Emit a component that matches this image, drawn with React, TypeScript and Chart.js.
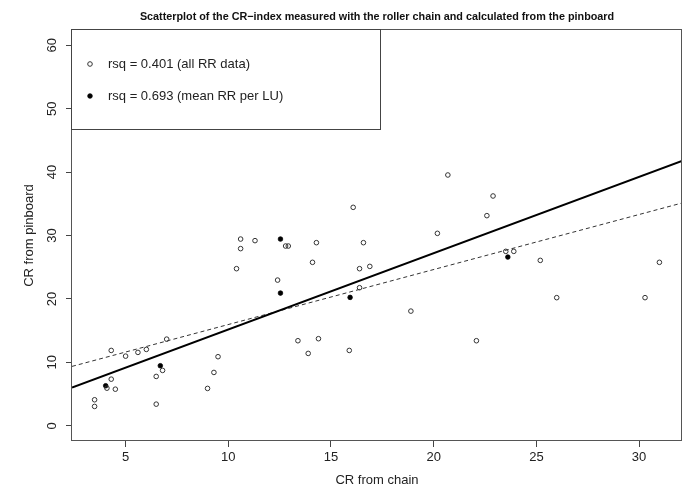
import React, { useEffect, useRef } from "react";
import { Chart, registerables } from "chart.js";

Chart.register(...registerables);

const FONT = "'Liberation Sans', Arial, Helvetica, sans-serif";

const titleText =
  "Scatterplot of the CR\u2212index measured with the roller chain and calculated from the pinboard";
const xLabel = "CR from chain";
const yLabel = "CR from pinboard";
const legendLabels = ["rsq = 0.401 (all RR data)", "rsq = 0.693 (mean RR per LU)"];

const xTicks = [5, 10, 15, 20, 25, 30];
const yTicks = [0, 10, 20, 30, 40, 50, 60];
const xLimits = [2.39, 32.09];
const yLimits = [-2.4, 62.4];

// all RR data (open circles)
const allChain = [
  3.49, 3.49, 4.3, 4.3, 4.09, 4.5, 5.0, 5.6, 6.01, 7.0, 6.49, 6.8, 6.49, 8.99, 9.3, 9.5,
  16.08, 10.6, 11.3, 12.79, 12.92, 14.29, 16.58, 10.6, 10.4, 14.1, 16.39, 16.89, 12.4, 16.39,
  13.39, 14.39, 13.89, 15.89, 20.69, 22.89, 22.59, 20.18, 23.51, 23.9, 25.19, 30.99, 25.99,
  30.29, 18.89, 22.08,
];
const allPinboard = [
  4.1, 3.05, 11.88, 7.35, 5.93, 5.77, 10.98, 11.57, 12.04, 13.66, 7.78, 8.73, 3.41, 5.89, 8.41,
  10.89, 34.44, 29.44, 29.19, 28.34, 28.34, 28.87, 28.87, 27.93, 24.77, 25.77, 24.77, 25.13,
  22.97, 21.77, 13.41, 13.73, 11.41, 11.88, 39.54, 36.23, 33.13, 30.34, 27.5, 27.5, 26.08, 25.77,
  20.2, 20.2, 18.08, 13.41,
];

// mean RR per LU (filled dots)
const meanChain = [4.03, 6.69, 12.54, 12.54, 15.93, 23.61];
const meanPinboard = [6.31, 9.47, 29.44, 20.92, 20.24, 26.6];

// regression lines
const fitAll = { intercept: 7.29, slope: 0.8673 };
const fitMean = { intercept: 3.17, slope: 1.2024 };

const openStyle = { radius: 2.3, border: "#333", fill: "rgba(255,255,255,0)", width: 1 };
const filledStyle = { radius: 2.3, border: "#000", fill: "#000", width: 0.8 };

function linePoints(fit: { intercept: number; slope: number }) {
  return xLimits.map((x) => ({ x, y: fit.intercept + fit.slope * x }));
}

const decorPlugin = {
  id: "decor",
  afterDraw(chart: any) {
    const { ctx, chartArea: a } = chart;
    ctx.save();
    // plot box
    ctx.strokeStyle = "#555";
    ctx.lineWidth = 1;
    ctx.strokeRect(a.left - 0.5, a.top - 0.5, a.right - a.left, a.bottom - a.top);

    // title
    ctx.fillStyle = "#111";
    ctx.font = `bold 10.8px ${FONT}`;
    ctx.textAlign = "center";
    ctx.textBaseline = "middle";
    ctx.fillText(titleText, (a.left + a.right) / 2, 17);

    // legend
    const lx = a.left - 0.5;
    const ly = a.top - 0.5;
    ctx.strokeStyle = "#444";
    ctx.strokeRect(lx, ly, 309, 100);
    const rows = [a.top + 34, a.top + 66];
    const styles = [openStyle, filledStyle];
    rows.forEach((ry, i) => {
      const s = styles[i];
      ctx.beginPath();
      ctx.arc(a.left + 18, ry, s.radius, 0, Math.PI * 2);
      ctx.fillStyle = s.fill;
      ctx.fill();
      ctx.lineWidth = s.width;
      ctx.strokeStyle = s.border;
      ctx.stroke();
      ctx.fillStyle = "#222";
      ctx.font = `13px ${FONT}`;
      ctx.textAlign = "left";
      ctx.textBaseline = "middle";
      ctx.fillText(legendLabels[i], a.left + 36, ry);
    });
    ctx.restore();
  },
};

export default function App() {
  const canvasRef = useRef<HTMLCanvasElement | null>(null);

  useEffect(() => {
    if (!canvasRef.current) return;
    const chart = new Chart(canvasRef.current, {
      type: "scatter",
      data: {
        datasets: [
          {
            label: legendLabels[0],
            data: allChain.map((x, i) => ({ x, y: allPinboard[i] })),
            pointRadius: openStyle.radius,
            pointBorderWidth: openStyle.width,
            pointBorderColor: openStyle.border,
            pointBackgroundColor: openStyle.fill,
            pointHoverRadius: openStyle.radius,
          },
          {
            label: legendLabels[1],
            data: meanChain.map((x, i) => ({ x, y: meanPinboard[i] })),
            pointRadius: filledStyle.radius,
            pointBorderWidth: filledStyle.width,
            pointBorderColor: filledStyle.border,
            pointBackgroundColor: filledStyle.fill,
            pointHoverRadius: filledStyle.radius,
          },
          {
            label: "fit mean",
            data: linePoints(fitMean),
            showLine: true,
            borderColor: "#000",
            borderWidth: 2,
            pointRadius: 0,
            fill: false,
          },
          {
            label: "fit all",
            data: linePoints(fitAll),
            showLine: true,
            borderColor: "#333",
            borderWidth: 1,
            borderDash: [4, 3],
            pointRadius: 0,
            fill: false,
          },
        ],
      },
      options: {
        responsive: false,
        animation: false,
        events: [],
        layout: { padding: { left: 0, top: 30, right: 18, bottom: 0 } },
        plugins: {
          legend: { display: false },
          tooltip: { enabled: false },
          title: { display: false },
        },
        scales: {
          x: {
            type: "linear",
            min: xLimits[0],
            max: xLimits[1],
            afterBuildTicks: (scale: any) => {
              scale.ticks = xTicks.map((v) => ({ value: v }));
            },
            afterFit: (scale: any) => {
              scale.height = 53;
            },
            grid: {
              display: true,
              drawOnChartArea: false,
              drawTicks: true,
              tickLength: 6,
              color: "#444",
            },
            border: { display: false },
            ticks: {
              autoSkip: false,
              maxRotation: 0,
              padding: 3,
              color: "#222",
              font: { family: FONT, size: 13, lineHeight: 1.2 },
              callback: (v: any) => String(v),
            },
            title: {
              display: true,
              text: xLabel,
              color: "#222",
              font: { family: FONT, size: 13, lineHeight: 1.2 },
              padding: { top: 0, bottom: 6 },
            },
          },
          y: {
            type: "linear",
            min: yLimits[0],
            max: yLimits[1],
            afterBuildTicks: (scale: any) => {
              scale.ticks = yTicks.map((v) => ({ value: v }));
            },
            afterFit: (scale: any) => {
              scale.width = 72;
            },
            grid: {
              display: true,
              drawOnChartArea: false,
              drawTicks: true,
              tickLength: 6,
              color: "#444",
            },
            border: { display: false },
            ticks: {
              autoSkip: false,
              minRotation: 90,
              maxRotation: 90,
              crossAlign: "center",
              padding: 6.5,
              color: "#222",
              font: { family: FONT, size: 13, lineHeight: 1.2 },
              callback: (v: any) => String(v),
            },
            title: {
              display: true,
              text: yLabel,
              color: "#222",
              font: { family: FONT, size: 13, lineHeight: 1.2 },
              padding: { top: 22, bottom: 0 },
            },
          },
        },
      },
      plugins: [decorPlugin],
    } as any);
    return () => chart.destroy();
  }, []);

  return (
    <div style={{ position: "absolute", left: 0, top: 0, width: 700, height: 494, background: "#fff" }}>
      <canvas ref={canvasRef} width={700} height={494} />
    </div>
  );
}
